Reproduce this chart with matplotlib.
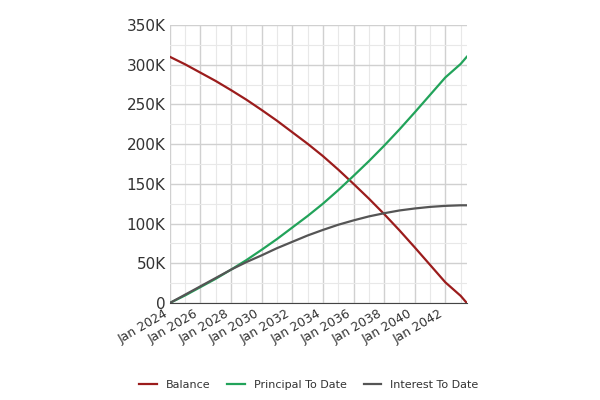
import matplotlib
matplotlib.use("Agg")
import matplotlib.pyplot as plt
import numpy as np

years = [2024, 2025, 2026, 2027, 2028, 2029, 2030, 2031, 2032, 2033, 2034, 2035, 2036, 2037, 2038, 2039, 2040, 2041, 2042, 2043, 2043.4]
balance = [310, 300.5, 290, 279.5, 268, 256, 243, 229.5, 215, 200.5, 185, 168, 150, 131.5, 112, 91.5, 70, 48, 26, 9, 0]
interest = [0, 10.5, 21, 31.5, 42, 51.5, 60, 69, 77, 85, 92, 98.5, 104, 109, 113, 116.5, 119, 121, 122.3, 123, 123]
principal = [310 - b for b in balance]
tick_years = list(range(2024, 2043, 2))
tick_labels = [f"Jan {y}" for y in tick_years]
y_ticks = [0, 50, 100, 150, 200, 250, 300, 350]
y_labels = ["0", "50K", "100K", "150K", "200K", "250K", "300K", "350K"]

fig = plt.figure(figsize=(6, 4), dpi=100)
ax = fig.add_axes([0.283, 0.2425, 0.495, 0.695])
ax.plot(years, balance, color="#9b1c1c", lw=1.6, label="Balance")
ax.plot(years, principal, color="#22a35a", lw=1.6, label="Principal To Date")
ax.plot(years, interest, color="#555555", lw=1.6, label="Interest To Date")
ax.set_xlim(2024, 2043.4)
ax.set_ylim(0, 350)
ax.set_xticks(tick_years)
ax.set_xticklabels(tick_labels, rotation=30, ha="right", fontsize=9, color="#333333")
ax.set_xticks(range(2025, 2044, 2), minor=True)
ax.set_yticks(y_ticks)
ax.set_yticklabels(y_labels, fontsize=11, color="#333333")
ax.set_yticks(np.arange(25, 350, 50), minor=True)
ax.grid(True, which="major", color="#d0d0d0", lw=1)
ax.grid(True, which="minor", color="#e8e8e8", lw=0.8)
ax.tick_params(length=0, which="both", pad=3)
for s in ["top", "right", "left"]:
    ax.spines[s].set_visible(False)
ax.spines["bottom"].set_color("#444444")
ax.set_axisbelow(True)
fig.legend(loc="center", bbox_to_anchor=(0.515, 0.038), ncol=3, frameon=False,
           fontsize=8, handlelength=1.6, columnspacing=1.5, labelcolor="#333333")
fig.savefig("out.png")
